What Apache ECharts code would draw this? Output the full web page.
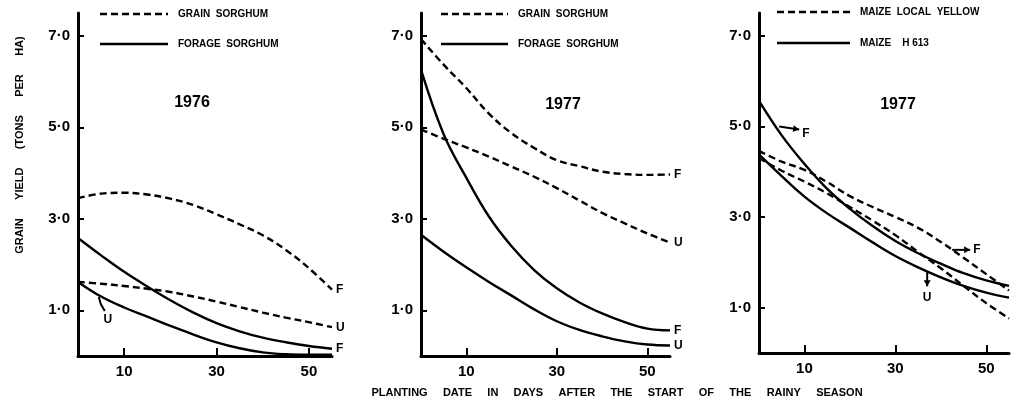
<!DOCTYPE html>
<html><head><meta charset="utf-8">
<script src="https://cdn.jsdelivr.net/npm/echarts@6/dist/echarts.min.js"></script>
<style>html,body{margin:0;padding:0;background:#fff}#c{width:1012px;height:408px}</style>
</head><body><div id="c"></div>
<script>
// ---- data (days after start of rainy season) ----
const days = [0,5,10,15,20,25,30,35,40,45,50,55];
const xTicks = [10,30,50];
const yTicks = [1,3,5,7];
// 1976 sorghum
const s76GrainF  = [3.45,3.55,3.57,3.53,3.44,3.30,3.10,2.88,2.64,2.32,1.92,1.45];
const s76GrainU  = [1.62,1.58,1.53,1.47,1.40,1.30,1.19,1.07,0.95,0.84,0.74,0.63];
const s76ForageF = [2.58,2.20,1.84,1.52,1.22,0.95,0.72,0.54,0.40,0.30,0.22,0.16];
const s76ForageU = [1.62,1.30,1.06,0.86,0.66,0.47,0.30,0.17,0.08,0.04,0.03,0.03];
// 1977 sorghum
const s77GrainF  = [6.93,6.37,5.86,5.30,4.87,4.55,4.28,4.15,4.03,3.98,3.96,3.97];
const s77GrainU  = [4.95,4.75,4.56,4.36,4.14,3.92,3.67,3.40,3.13,2.90,2.68,2.48];
const s77ForageF = [6.26,4.85,3.90,3.05,2.40,1.88,1.48,1.17,0.93,0.74,0.60,0.56];
const s77ForageU = [2.65,2.28,1.94,1.62,1.32,1.02,0.76,0.57,0.43,0.32,0.25,0.23];
// 1977 maize
const m77LocalF  = [4.46,4.22,4.04,3.77,3.46,3.22,3.00,2.76,2.45,2.10,1.74,1.38];
const m77LocalU  = [4.30,4.02,3.78,3.52,3.22,2.92,2.60,2.23,1.87,1.48,1.10,0.76];
const m77H613F   = [5.56,4.80,4.17,3.62,3.18,2.80,2.47,2.20,1.97,1.76,1.60,1.48];
const m77H613U   = [4.38,3.90,3.45,3.08,2.76,2.44,2.14,1.89,1.67,1.48,1.33,1.22];

const FONT = '"Liberation Sans", Arial, sans-serif';
const pairs = a => days.map((d,i)=>[d,a[i]]);

function mk(grid, data, dashed, label){
  return {
    type:'line', xAxisIndex:grid, yAxisIndex:grid, data:pairs(data),
    showSymbol:false, smooth:0.4, silent:true,
    lineStyle:{color:'#000', width:2.4, type: dashed ? [7,4] : 'solid'},
    endLabel: label ? {show:true, formatter:label, color:'#000', fontSize:12,
      fontWeight:'bold', fontFamily:FONT, distance:4} : {show:false}
  };
}

const grids = [
  {left:78, top:13, width:254, height:343},
  {left:421, top:13, width:249, height:343},
  {left:759, top:13, width:250, height:340}
];
const xAxes = grids.map((g,i)=>({
  type:'value', gridIndex:i, min:0, max:55,
  splitLine:{show:false},
  axisLine:{show:true, onZero:false, lineStyle:{color:'#000', width:3}},
  axisTick:{show:true, inside:true, length:8, customValues:xTicks, lineStyle:{color:'#000', width:2}},
  axisLabel:{customValues:xTicks, color:'#000', fontSize:15, fontWeight:'bold', fontFamily:FONT, margin:8}
}));
const yAxes = grids.map((g,i)=>({
  type:'value', gridIndex:i, min:0, max:7.5,
  splitLine:{show:false},
  axisLine:{show:true, onZero:false, lineStyle:{color:'#000', width:3}},
  axisTick:{show:true, inside:true, length:6, customValues:yTicks, lineStyle:{color:'#000', width:2}},
  axisLabel:{customValues:yTicks, color:'#000', fontSize:15, fontWeight:'bold', fontFamily:FONT, margin:8,
    formatter:v=>v.toFixed(1).replace('.','\u00B7')}
}));

const series = [
  mk(0,s76GrainF,true,'F'), mk(0,s76GrainU,true,'U'), mk(0,s76ForageF,false,'F'), mk(0,s76ForageU,false,null),
  mk(1,s77GrainF,true,'F'), mk(1,s77GrainU,true,'U'), mk(1,s77ForageF,false,'F'), mk(1,s77ForageU,false,'U'),
  mk(2,m77LocalF,true,null), mk(2,m77LocalU,true,null), mk(2,m77H613F,false,null), mk(2,m77H613U,false,null)
];

function txt(x,y,t,size,align){
  return {type:'text', x:x, y:y, style:{text:t, fill:'#000', fontSize:size, fontWeight:'bold', fontFamily:FONT,
    textAlign:align||'left', textVerticalAlign:'middle'}};
}
function seg(x1,y1,x2,y2,dashed){
  return {type:'line', shape:{x1,y1,x2,y2}, style:{stroke:'#000', lineWidth:2.4, lineDash: dashed?[7,4]:null}};
}
const legends = [
  [100,168,178,14,'GRAIN  SORGHUM',44,'FORAGE  SORGHUM'],
  [441,508,518,14,'GRAIN  SORGHUM',44,'FORAGE  SORGHUM'],
  [777,850,860,12,'MAIZE  LOCAL  YELLOW',43,'MAIZE    H 613']
];
const graphic = [];
legends.forEach(l=>{
  graphic.push(seg(l[0],l[3],l[1],l[3],true), txt(l[2],l[3],l[4],10));
  graphic.push(seg(l[0],l[5],l[1],l[5],false), txt(l[2],l[5],l[6],10));
});
graphic.push(txt(192,103,'1976',16,'center'));
graphic.push(txt(563,105,'1977',16,'center'));
graphic.push(txt(898,105,'1977',16,'center'));
graphic.push({type:'text', x:20, y:145, rotation:Math.PI/2,
  style:{text:'GRAIN      YIELD      (TONS      PER      HA)', fill:'#000', fontSize:11, fontWeight:'bold', fontFamily:FONT, textAlign:'center', textVerticalAlign:'middle'}});
graphic.push({type:'text', x:617, y:393,
  style:{text:'PLANTING     DATE     IN     DAYS     AFTER     THE     START     OF     THE     RAINY     SEASON', fill:'#000', fontSize:11, fontWeight:'bold', fontFamily:FONT, textAlign:'center', textVerticalAlign:'middle'}});

const chart = echarts.init(document.getElementById('c'), null, {renderer:'canvas'});
chart.setOption({backgroundColor:'#fff', animation:false, grid:grids, xAxis:xAxes, yAxis:yAxes, series:series, graphic:graphic});

// annotations anchored on the curves
function interp(arr,x){
  for(let i=0;i<days.length-1;i++){ if(x>=days[i]&&x<=days[i+1]){const t=(x-days[i])/(days[i+1]-days[i]);return arr[i]+t*(arr[i+1]-arr[i]);} }
  return arr[arr.length-1];
}
function pt(g,arr,x){ return chart.convertToPixel({gridIndex:g},[x,interp(arr,x)]); }
function arrow(p,q,head){
  const items=[{type:'line', shape:{x1:p[0],y1:p[1],x2:q[0],y2:q[1]}, style:{stroke:'#000',lineWidth:2}}];
  if(head){
    const a=Math.atan2(q[1]-p[1],q[0]-p[0]), L=6, W=3.5;
    const bx=q[0]-L*Math.cos(a), by=q[1]-L*Math.sin(a);
    items.push({type:'polygon', shape:{points:[[q[0],q[1]],[bx+W*Math.sin(a),by-W*Math.cos(a)],[bx-W*Math.sin(a),by+W*Math.cos(a)]]}, style:{fill:'#000'}});
  }
  return items;
}
const ann=[];
let p=pt(0,s76ForageU,4.5);
ann.push({type:'polyline', shape:{points:[[p[0],p[1]+2],[p[0]+2,p[1]+9],[p[0]+6,p[1]+16]]}, style:{stroke:'#000',lineWidth:2,fill:null}});
ann.push(txt(p[0]+9,p[1]+25,'U',12,'center'));
p=pt(2,m77H613F,4);
ann.push(...arrow([p[0]+2,p[1]-2],[p[0]+22,p[1]+1],true));
ann.push(txt(p[0]+25,p[1]+5,'F',12));
p=pt(2,m77LocalF,42.5);
ann.push(...arrow([p[0],p[1]],[p[0]+18,p[1]],true));
ann.push(txt(p[0]+21,p[1],'F',12));
p=pt(2,m77H613U,37);
ann.push(...arrow([p[0],p[1]],[p[0],p[1]+15],true));
ann.push(txt(p[0],p[1]+26,'U',12,'center'));
chart.setOption({graphic: graphic.concat(ann)});
</script></body></html>
